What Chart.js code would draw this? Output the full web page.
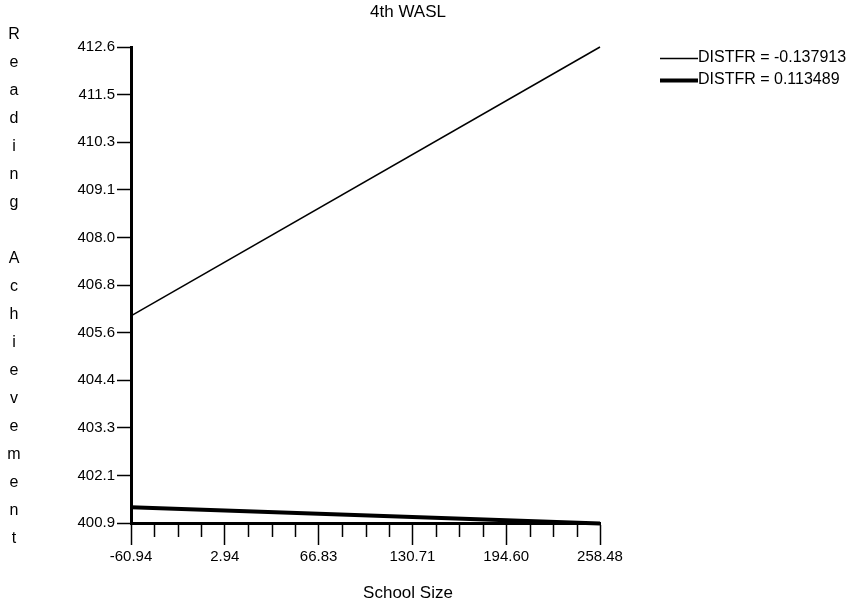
<!DOCTYPE html>
<html>
<head>
<meta charset="utf-8">
<script src="https://cdn.jsdelivr.net/npm/chart.js@4"></script>
<style>
  html, body { margin: 0; padding: 0; background: #fff; }
  #wrap { width: 853px; height: 606px; }
</style>
</head>
<body>
<div id="wrap"><canvas id="myChart"></canvas></div>
<script>
// data
const schoolSize = [-60.94, 258.48];
const distLow = [405.99, 412.6];     // DISTFR = -0.137913
const distHigh = [401.29, 400.89];   // DISTFR = 0.113489
const xTickLabels = ['-60.94', '2.94', '66.83', '130.71', '194.60', '258.48'];
const yTickLabels = ['400.9', '402.1', '403.3', '404.4', '405.6', '406.8', '408.0', '409.1', '410.3', '411.5', '412.6'];
const seriesNames = ['DISTFR = -0.137913', 'DISTFR = 0.113489'];

const xMin = -60.94, xMax = 258.48;
const yMin = 400.9, yMax = 412.6;
const FONT = '"Liberation Sans", Arial, sans-serif';

// minor ticks, titles and legend
const extras = {
  id: 'extras',
  afterDraw(chart) {
    const c = chart.ctx;
    const xs = chart.scales.x;
    const bottom = chart.chartArea.bottom;
    c.save();
    c.strokeStyle = '#000';
    c.lineWidth = 1.5;
    const step = (xMax - xMin) / 20;
    for (let i = 0; i <= 20; i++) {
      if (i % 4 === 0) continue;
      const px = Math.round(xs.getPixelForValue(xMin + i * step)) + 0.5;
      c.beginPath();
      c.moveTo(px, bottom);
      c.lineTo(px, bottom + 14);
      c.stroke();
    }

    c.fillStyle = '#000';
    c.font = '17px ' + FONT;
    c.textAlign = 'center';
    c.textBaseline = 'middle';
    c.fillText('4th WASL', 408, 12);
    c.fillText('School Size', 408, 593);

    c.font = '16px ' + FONT;
    const yl = 'Reading Achievement';
    for (let i = 0; i < yl.length; i++) {
      c.fillText(yl[i], 14, 35 + i * 28);
    }

    c.font = '16px ' + FONT;
    c.textAlign = 'left';
    chart.data.datasets.forEach((ds, i) => {
      const y = 58 + i * 22;
      c.lineWidth = ds.borderWidth < 2 ? 1.5 : ds.borderWidth;
      c.beginPath();
      c.moveTo(660, y + 0.5);
      c.lineTo(698, y + 0.5);
      c.stroke();
      c.fillText(ds.label, 698, y);
    });
    c.restore();
  }
};

new Chart(document.getElementById('myChart'), {
  type: 'line',
  data: {
    datasets: [{
      label: seriesNames[0],
      data: schoolSize.map((x, i) => ({ x: x, y: distLow[i] })),
      borderColor: '#000',
      borderWidth: 1.5,
      pointRadius: 0,
      tension: 0
    }, {
      label: seriesNames[1],
      data: schoolSize.map((x, i) => ({ x: x, y: distHigh[i] })),
      borderColor: '#000',
      borderWidth: 4,
      pointRadius: 0,
      tension: 0
    }]
  },
  plugins: [extras],
  options: {
    responsive: true,
    maintainAspectRatio: false,
    animation: false,
    clip: false,
    layout: { padding: { top: 47, right: 253, left: 0, bottom: 0 } },
    plugins: {
      legend: { display: false },
      title: { display: false },
      tooltip: { enabled: false }
    },
    scales: {
      x: {
        type: 'linear',
        min: xMin,
        max: xMax,
        afterBuildTicks(scale) {
          scale.ticks = xTickLabels.map((t, i) => ({ value: xMin + i * (xMax - xMin) / 5 }));
        },
        afterFit(scale) { scale.height = 83; },
        grid: {
          drawOnChartArea: false,
          drawTicks: true,
          tickLength: 22,
          tickColor: '#000',
          tickWidth: 1.5
        },
        border: { color: '#000', width: 3 },
        ticks: {
          color: '#000',
          padding: 3,
          maxRotation: 0,
          autoSkip: false,
          font: { family: FONT, size: 15 },
          callback: (v, i) => xTickLabels[i]
        }
      },
      y: {
        type: 'linear',
        min: yMin,
        max: yMax,
        afterBuildTicks(scale) {
          scale.ticks = yTickLabels.map((t, i) => ({ value: yMin + i * (yMax - yMin) / 10 }));
        },
        afterFit(scale) { scale.width = 131; },
        grid: {
          drawOnChartArea: false,
          drawTicks: true,
          tickLength: 14,
          tickColor: '#000',
          tickWidth: 1.5
        },
        border: { color: '#000', width: 3 },
        ticks: {
          color: '#000',
          padding: 2,
          autoSkip: false,
          font: { family: FONT, size: 15 },
          callback: (v, i) => yTickLabels[i]
        }
      }
    }
  }
});
</script>
</body>
</html>
